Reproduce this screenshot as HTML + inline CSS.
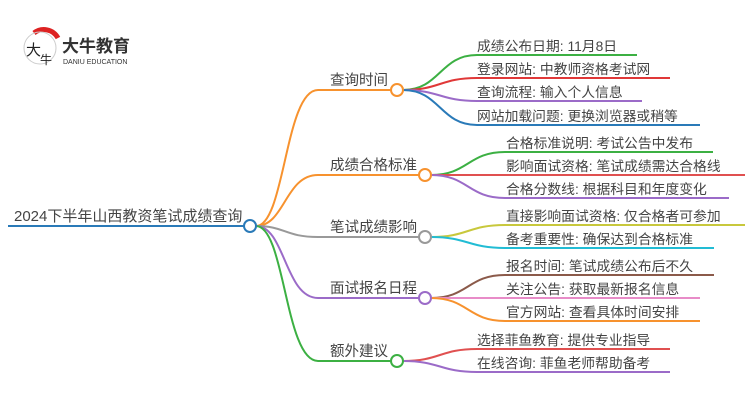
<!DOCTYPE html>
<html><head><meta charset="utf-8"><style>
body{margin:0;background:#fff}
svg text{font-family:"Liberation Sans","Noto Sans CJK SC",sans-serif;font-size:13.8px;fill:#444}
</style></head><body>
<svg width="750" height="410" viewBox="0 0 750 410" xmlns="http://www.w3.org/2000/svg">
<path d="M34,33 A16,16 0 0 1 58,38" stroke="#d22" stroke-width="5" fill="none"/>
<circle cx="40" cy="48" r="16" fill="none" stroke="#ccc" stroke-width="1"/>
<text x="26" y="55" style="font-size:15px;fill:#222">大</text>
<text x="40" y="64" style="font-size:12px;fill:#222">牛</text>
<text x="62" y="52" style="font-size:17px;font-weight:bold;fill:#333">大牛教育</text>
<text x="63" y="64" style="font-size:7px;fill:#333">DANIU EDUCATION</text>
<g fill="none" stroke-width="2">
<path d="M8,226 L244,226" stroke="#2a7ab8"/>
<path d="M256,226 C285,226 285,90 318,90 L391,90" stroke="#f7922e"/>
<path d="M256,226 C285,226 285,175 318,175 L419,175" stroke="#f7922e"/>
<path d="M256,226 C285,226 285,237 318,237 L419,237" stroke="#999"/>
<path d="M256,226 C285,226 285,298 318,298 L419,298" stroke="#9b6bc8"/>
<path d="M256,226 C285,226 285,361 318,361 L391,361" stroke="#3cb043"/>
<path d="M403,90 C440,90 440,55 477,55 L637,55" stroke="#3cb043"/>
<path d="M403,90 C440,90 440,78 477,78 L670,78" stroke="#e03838"/>
<path d="M403,90 C440,90 440,101 477,101 L642,101" stroke="#9b6bc8"/>
<path d="M403,90 C440,90 440,125 477,125 L700,125" stroke="#2a7ab8"/>
<path d="M431,175 C468,175 468,152 505,152 L713,152" stroke="#3cb043"/>
<path d="M431,175 L745,175" stroke="#e05050"/>
<path d="M431,175 C468,175 468,198 505,198 L729,198" stroke="#9b6bc8"/>
<path d="M431,237 C468,237 468,225 505,225 L745,225" stroke="#c8c83c"/>
<path d="M431,237 C468,237 468,248 505,248 L714,248" stroke="#22bcd4"/>
<path d="M431,298 C468,298 468,275 505,275 L714,275" stroke="#8b5a4a"/>
<path d="M431,298 L700,298" stroke="#e88cc8"/>
<path d="M431,298 C468,298 468,321 505,321 L700,321" stroke="#f7922e"/>
<path d="M403,361 C440,361 440,349 477,349 L670,349" stroke="#e05050"/>
<path d="M403,361 C440,361 440,372 477,372 L670,372" stroke="#9b6bc8"/>
</g>
<g fill="#fff" stroke-width="2">
<circle cx="250" cy="226" r="6" stroke="#2a7ab8"/>
<circle cx="397" cy="90" r="6" stroke="#f7922e"/>
<circle cx="425" cy="175" r="6" stroke="#f7922e"/>
<circle cx="425" cy="237" r="6" stroke="#999"/>
<circle cx="425" cy="298" r="6" stroke="#9b6bc8"/>
<circle cx="397" cy="361" r="6" stroke="#3cb043"/>
</g>
<text x="14" y="221" style="font-size:15px">2024下半年山西教资笔试成绩查询</text>
<text x="330" y="85" style="font-size:14.5px">查询时间</text>
<text x="330" y="170" style="font-size:14.5px">成绩合格标准</text>
<text x="330" y="232" style="font-size:14.5px">笔试成绩影响</text>
<text x="330" y="293" style="font-size:14.5px">面试报名日程</text>
<text x="330" y="356" style="font-size:14.5px">额外建议</text>
<text x="477" y="51">成绩公布日期: 11月8日</text>
<text x="477" y="74">登录网站: 中教师资格考试网</text>
<text x="477" y="97">查询流程: 输入个人信息</text>
<text x="477" y="121">网站加载问题: 更换浏览器或稍等</text>
<text x="506" y="148">合格标准说明: 考试公告中发布</text>
<text x="506" y="171">影响面试资格: 笔试成绩需达合格线</text>
<text x="506" y="194">合格分数线: 根据科目和年度变化</text>
<text x="506" y="221">直接影响面试资格: 仅合格者可参加</text>
<text x="506" y="244">备考重要性: 确保达到合格标准</text>
<text x="506" y="271">报名时间: 笔试成绩公布后不久</text>
<text x="506" y="294">关注公告: 获取最新报名信息</text>
<text x="506" y="317">官方网站: 查看具体时间安排</text>
<text x="477" y="345">选择菲鱼教育: 提供专业指导</text>
<text x="477" y="368">在线咨询: 菲鱼老师帮助备考</text>
</svg>
</body></html>
